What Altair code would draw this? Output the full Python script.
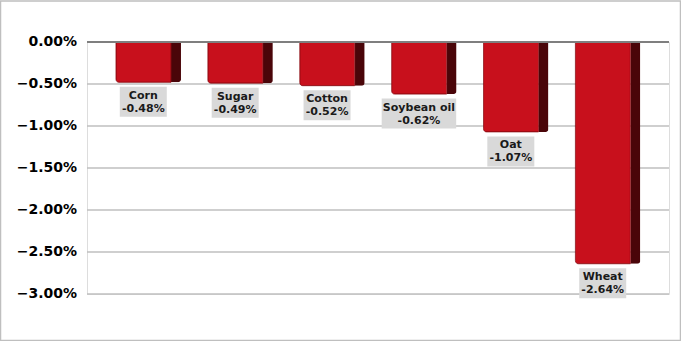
import altair as alt
import pandas as pd

categories = ["Corn", "Sugar", "Cotton", "Soybean oil", "Oat", "Wheat"]
values = [-0.48, -0.49, -0.52, -0.62, -1.07, -2.64]
y_ticks = [0.0, -0.5, -1.0, -1.5, -2.0, -2.5, -3.0]

STEP_PX = 582 / 6.334  # pixels per category unit on the x scale

df = pd.DataFrame({"cat": categories, "value": values})
df["idx"] = range(len(categories))
df["vlabel"] = [f"{v:.2f}%" for v in values]
maxlen = [max(len(c), len(v)) for c, v in zip(df["cat"], df["vlabel"])]
half_w = [(n * 5.5 + 14) / 2 / STEP_PX for n in maxlen]
df["lo"] = df["idx"] - half_w
df["hi"] = df["idx"] + half_w

grid_df = pd.DataFrame({"t": y_ticks})

xs = alt.Scale(domain=[-0.667, 5.667], nice=False, zero=False, padding=0)
ys = alt.Scale(domain=[-3.0, 0.0], nice=False, padding=0)

X = alt.X("idx:Q", scale=xs, axis=None)
Y = alt.Y("value:Q", scale=ys, axis=None)

grid = alt.Chart(grid_df).transform_filter("datum.t != 0").mark_rule(
    color="#BFBFBF", strokeWidth=1.5
).encode(
    y=alt.Y("t:Q", scale=ys, axis=None),
    x=alt.value(0), x2=alt.value(582),
)

ylabels = alt.Chart(grid_df).transform_calculate(
    lab="format(datum.t, '.2f') + '%'"
).mark_text(
    align="right", baseline="middle", font="DejaVu Sans", fontWeight="bold",
    fontSize=14, color="#000000", dx=-10
).encode(
    y=alt.Y("t:Q", scale=ys, axis=None),
    x=alt.value(0),
    text="lab:N",
)

side = alt.Chart(df).mark_bar(width=10, xOffset=27.7, color="#4A0509",
                             cornerRadiusBottomRight=3).encode(x=X, y=Y)
front = alt.Chart(df).mark_bar(width=55, xOffset=-4.8, color="#C8101C",
                              stroke="#8E0A12", strokeWidth=0.8,
                              cornerRadiusBottomLeft=3).encode(x=X, y=Y)

zero = alt.Chart(grid_df).transform_filter("datum.t == 0").mark_rule(
    color="#7F7F7F", strokeWidth=2
).encode(
    y=alt.Y("t:Q", scale=ys, axis=None),
    x=alt.value(0), x2=alt.value(582),
)

box = alt.Chart(df).mark_rect(
    color="#D9D9D9", yOffset=4.5, y2Offset=34.5, xOffset=-5, x2Offset=-5
).encode(
    x=alt.X("lo:Q", scale=xs, axis=None), x2="hi:Q",
    y=Y, y2="value:Q",
)

t1 = alt.Chart(df).mark_text(
    font="DejaVu Sans", fontWeight="bold", fontSize=11, color="#1A1A1A",
    baseline="middle", dy=13.5, dx=-5
).encode(x=X, y=Y, text="cat:N")
t2 = alt.Chart(df).mark_text(
    font="DejaVu Sans", fontWeight="bold", fontSize=11, color="#1A1A1A",
    baseline="middle", dy=26.5, dx=-5
).encode(x=X, y=Y, text="vlabel:N")

frame = alt.Chart(grid_df).transform_filter("datum.t == 0").mark_rect(
    fill=None, stroke="#BFBFBF", strokeWidth=1.5
).encode(
    x=alt.value(-86.5), x2=alt.value(593.5),
    y=alt.value(-41), y2=alt.value(298.5),
)

chart = alt.layer(frame, grid, ylabels, side, front, zero, box, t1, t2).properties(
    width=582, height=252,
    autosize=alt.AutoSizeParams(type="none"),
    padding={"left": 87, "top": 42, "right": 12, "bottom": 47},
).configure_view(stroke=None).configure(background="white")

chart.save("out.html", embed_options={"renderer": "svg", "actions": False})
